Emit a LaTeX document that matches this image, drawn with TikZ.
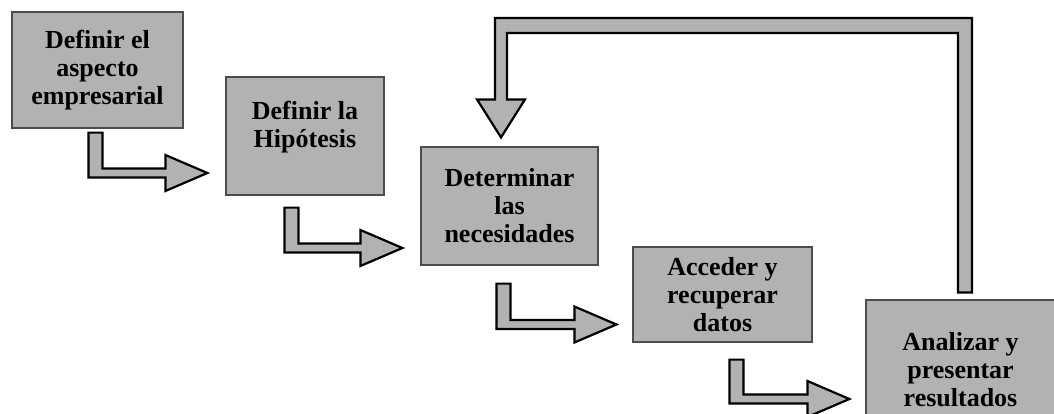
\documentclass[tikz,border=0pt]{standalone}
\usepackage{fontspec}
\setmainfont{Liberation Serif}
\usetikzlibrary{calc}

% flecha en L: arranque (arriba de la barra vertical) y punta
\newcommand{\flechaL}[2]{%
  \filldraw[flecha] ($(#1)+(-7,0)$) -- ($(#1)+(7,0)$) -- ($(#1 |- #2)+(7,-4.5)$)
    -- ($(#2)+(-42,-4.5)$) -- ($(#2)+(-42,-18)$) -- (#2) -- ($(#2)+(-42,18)$)
    -- ($(#2)+(-42,4.5)$) -- ($(#1 |- #2)+(-7,4.5)$) -- cycle;}

\begin{document}
\begin{tikzpicture}[x=0.5pt,y=-0.5pt,
    caja/.style={fill=black!30, draw=black!70, line width=0.6pt, inner sep=0pt,
      align=center, font=\fontsize{13}{14}\selectfont\bfseries},
    flecha/.style={fill=black!30, draw=black, line width=1.1pt, line join=miter}]
  \useasboundingbox (0,0) rectangle (1054,413);

  % las cajas
  \node[caja, minimum width=85.5pt, minimum height=58pt] (def) at (97.5,70) {Definir el\\aspecto\\empresarial};
  \node[caja, minimum width=79pt, minimum height=59pt] (hip) at (305,136) {Definir la\\Hipótesis\\[-2pt]};
  \node[caja, minimum width=88.5pt, minimum height=59pt] (nec) at (509.5,206) {Determinar\\las\\necesidades};
  \node[caja, minimum width=89.5pt, minimum height=47.5pt] (dat) at (722.5,294.5) {Acceder y\\recuperar\\datos};
  \node[caja, minimum width=94.5pt, minimum height=70pt] (res) at (960.5,370) {Analizar y\\presentar\\resultados};

  % flechas en L entre cajas
  \coordinate (a1) at ($(def.south west)+(84,4)$);
  \coordinate (p1) at ($(hip.west)+(-18,37)$);
  \coordinate (a2) at ($(hip.south west)+(66,12)$);
  \coordinate (p2) at ($(nec.west)+(-18,42)$);
  \coordinate (a3) at ($(nec.south west)+(83,18)$);
  \coordinate (p3) at ($(dat.west)+(-16,30)$);
  \coordinate (a4) at ($(dat.south west)+(104,17)$);
  \coordinate (p4) at ($(res.west)+(-16,29)$);
  \flechaL{a1}{p1}
  \flechaL{a2}{p2}
  \flechaL{a3}{p3}
  \flechaL{a4}{p4}

  % vuelta de resultados a necesidades
  \coordinate (r) at ($(res.north)+(4.5,-7)$);
  \coordinate (t) at ($(nec.north)+(-8.5,-9)$);
  \coordinate (arr) at (0,18);
  \coordinate (arrin) at (0,33);
  \filldraw[flecha] ($(r)+(-7,0)$) -- ($(r |- arrin)+(-7,0)$) -- ($(t |- arrin)+(6,0)$)
    -- ($(t)+(6,-38)$) -- ($(t)+(24,-38)$) -- (t) -- ($(t)+(-24,-38)$) -- ($(t)+(-6,-38)$)
    -- ($(t |- arr)+(-6,0)$) -- ($(r |- arr)+(7,0)$) -- ($(r)+(7,0)$) -- cycle;
\end{tikzpicture}
\end{document}
